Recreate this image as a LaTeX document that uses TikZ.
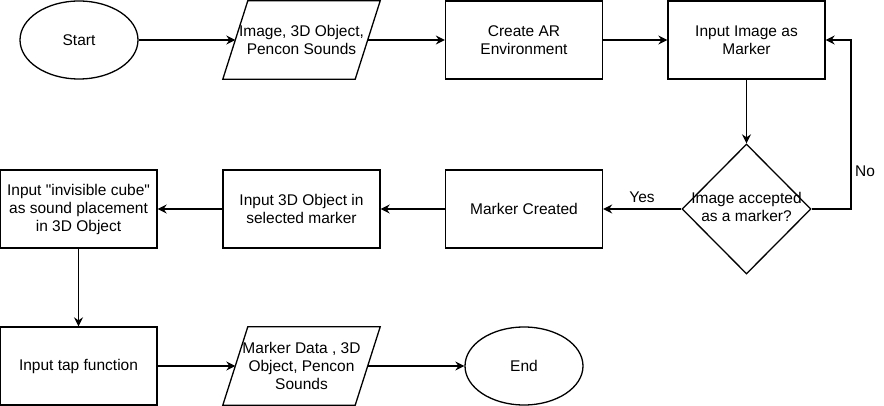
\documentclass[tikz,border=0pt]{standalone}
\usepackage{fontspec}
\setmainfont{Liberation Sans}
\newfontfamily\rawfont{Liberation Sans}
\usetikzlibrary{shapes.geometric,arrows.meta,calc}
\begin{document}
\begin{tikzpicture}[x=1pt,y=-1pt,
  every node/.style={font=\fontsize{15.5}{18}\selectfont, align=center, inner sep=0pt},
  proc/.style={draw, line width=1.3pt, minimum width=157pt, minimum height=78pt},
  term/.style={draw, ellipse, line width=1.3pt, minimum width=118pt, minimum height=78pt},
  iobox/.style={minimum width=132pt, minimum height=78pt},
  decide/.style={draw, diamond, line width=1.3pt, minimum width=129pt, minimum height=130pt},
  conn/.style={line width=1.3pt, -{Stealth[length=9pt,width=9pt,inset=3pt]}}]
\useasboundingbox (0,0) rectangle (884,406);
\newcommand{\paraframe}[1]{\draw[line width=1.3pt] ($(#1.north west)+(12.5,0)$) -- ($(#1.north east)+(12.5,0)$) -- ($(#1.south east)+(-12.5,0)$) -- ($(#1.south west)+(-12.5,0)$) -- cycle;}
\node[term] (start) at (79,40) {Start};
\node[iobox] (in1) at (301.5,40) {Image, 3D Object,\\Pencon Sounds};
\paraframe{in1}
\node[proc] (ar) at (524,40) {Create AR\\Environment};
\node[proc] (img) at (746.5,40) {Input Image as\\Marker};
\node[decide] (dec) at (746.5,209) {\makebox[0pt]{\begin{tabular}{@{}c@{}}Image accepted\\as a marker?\end{tabular}}};
\node[proc] (mc) at (524,209) {Marker Created};
\node[proc] (obj) at (301.5,209) {Input 3D Object in\\selected marker};
\node[proc] (cube) at (78.5,209) {Input {\rawfont"}invisible cube{\rawfont"}\\as sound placement\\in 3D Object};
\node[proc] (tap) at (78.5,366) {Input tap function};
\node[iobox] (out) at (301.5,366) {Marker Data , 3D\\Object, Pencon\\Sounds};
\paraframe{out}
\node[term] (end) at (524,366) {End};
\coordinate (nocorner) at (851,209);
\draw[conn] (start) -- (in1.west);
\draw[conn] (in1.east) -- (ar.west);
\draw[conn] (ar) -- (img);
\draw[conn] (img) -- (dec);
\draw[conn] (dec.east) -- (nocorner) |- (img.east);
\node (nolbl) at (865,171) {No};
\draw[conn] (dec.west) -- (mc.east);
\node (yeslbl) at (642,197) {Yes};
\draw[conn] (mc) -- (obj);
\draw[conn] (obj) -- (cube);
\draw[conn] (cube) -- (tap);
\draw[conn] (tap.east) -- (out.west);
\draw[conn] (out.east) -- (end.west);
\end{tikzpicture}
\end{document}
